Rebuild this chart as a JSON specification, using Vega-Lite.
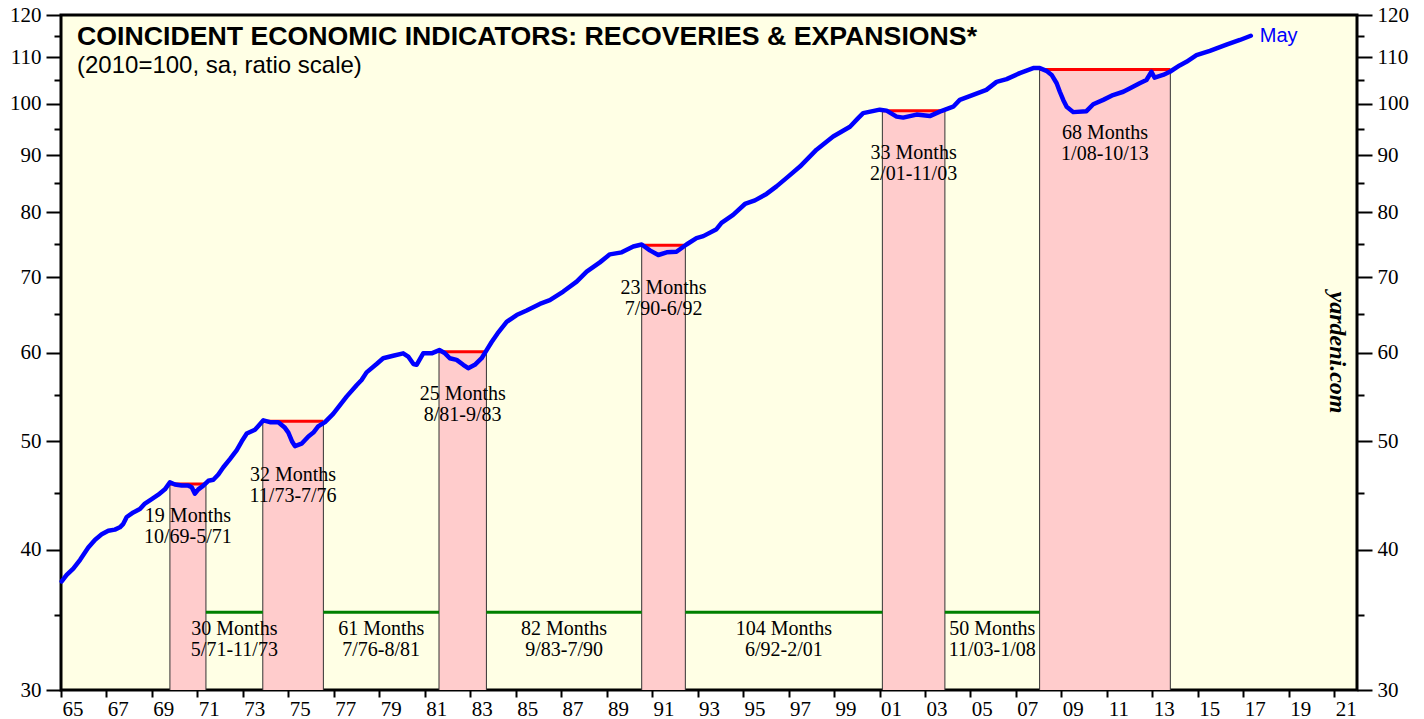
{
  "$schema": "https://vega.github.io/schema/vega-lite/v6.json",
  "width": 1296,
  "height": 675,
  "autosize": {"type": "none"},
  "padding": {"left": 61, "top": 15, "right": 67, "bottom": 29},
  "background": "white",
  "config": {
    "view": {"fill": "#FFFFE5", "stroke": "#000000", "strokeWidth": 3}
  },
  "title": {
    "text": "COINCIDENT ECONOMIC INDICATORS: RECOVERIES & EXPANSIONS*",
    "subtitle": "(2010=100, sa, ratio scale)",
    "anchor": "start",
    "frame": "group",
    "orient": "top",
    "offset": -74,
    "dx": 16,
    "font": "Liberation Sans",
    "fontSize": 26.7,
    "fontWeight": "bold",
    "color": "#000000",
    "subtitleFont": "Liberation Sans",
    "subtitleFontSize": 24,
    "subtitleColor": "#000000",
    "subtitlePadding": 3
  },
  "datasets": {
    "rec": [
      {"start": 1969.79, "end": 1971.375, "peak": 45.8, "label": "19 Months\n10/69-5/71", "labelAt": 42.4},
      {"start": 1973.875, "end": 1976.54, "peak": 52.1, "label": "32 Months\n11/73-7/76", "labelAt": 46.1},
      {"start": 1981.625, "end": 1983.71, "peak": 60.1, "label": "25 Months\n8/81-9/83", "labelAt": 54.4},
      {"start": 1990.54, "end": 1992.46, "peak": 74.8, "label": "23 Months\n7/90-6/92", "labelAt": 67.6},
      {"start": 2001.125, "end": 2003.875, "peak": 98.6, "label": "33 Months\n2/01-11/03", "labelAt": 89.3},
      {"start": 2008.04, "end": 2013.79, "peak": 107.3, "label": "68 Months\n1/08-10/13", "labelAt": 93.0}
    ],
    "exp": [
      {"start": 1971.375, "end": 1973.875, "level": 35.2, "labelAt": 33.6, "label": "30 Months\n5/71-11/73"},
      {"start": 1976.54, "end": 1981.625, "level": 35.2, "labelAt": 33.6, "label": "61 Months\n7/76-8/81"},
      {"start": 1983.71, "end": 1990.54, "level": 35.2, "labelAt": 33.6, "label": "82 Months\n9/83-7/90"},
      {"start": 1992.46, "end": 2001.125, "level": 35.2, "labelAt": 33.6, "label": "104 Months\n6/92-2/01"},
      {"start": 2003.875, "end": 2008.04, "level": 35.2, "labelAt": 33.6, "label": "50 Months\n11/03-1/08"}
    ],
    "cei": [
      {"year": 1965.03, "value": 37.5}, {"year": 1965.25, "value": 38.0}, {"year": 1965.54, "value": 38.5},
      {"year": 1965.84, "value": 39.2}, {"year": 1966.2, "value": 40.2}, {"year": 1966.5, "value": 40.85},
      {"year": 1966.79, "value": 41.3}, {"year": 1967.08, "value": 41.6}, {"year": 1967.37, "value": 41.7},
      {"year": 1967.59, "value": 41.9}, {"year": 1967.74, "value": 42.2}, {"year": 1967.89, "value": 42.8},
      {"year": 1968.18, "value": 43.2}, {"year": 1968.47, "value": 43.5}, {"year": 1968.69, "value": 44.0},
      {"year": 1968.99, "value": 44.4}, {"year": 1969.28, "value": 44.8}, {"year": 1969.57, "value": 45.3},
      {"year": 1969.79, "value": 45.95}, {"year": 1970.01, "value": 45.75}, {"year": 1970.31, "value": 45.65},
      {"year": 1970.6, "value": 45.65}, {"year": 1970.75, "value": 45.5}, {"year": 1970.89, "value": 44.9},
      {"year": 1971.04, "value": 45.3}, {"year": 1971.26, "value": 45.65}, {"year": 1971.48, "value": 46.1},
      {"year": 1971.7, "value": 46.2}, {"year": 1971.92, "value": 46.7}, {"year": 1972.14, "value": 47.4},
      {"year": 1972.43, "value": 48.2}, {"year": 1972.73, "value": 49.1}, {"year": 1972.95, "value": 50.0},
      {"year": 1973.17, "value": 50.8}, {"year": 1973.53, "value": 51.2}, {"year": 1973.68, "value": 51.6},
      {"year": 1973.9, "value": 52.2}, {"year": 1974.19, "value": 52.0}, {"year": 1974.56, "value": 52.0},
      {"year": 1974.85, "value": 51.4}, {"year": 1975.0, "value": 50.9}, {"year": 1975.17, "value": 49.95},
      {"year": 1975.29, "value": 49.5}, {"year": 1975.58, "value": 49.75}, {"year": 1975.88, "value": 50.5},
      {"year": 1976.1, "value": 50.9}, {"year": 1976.31, "value": 51.55}, {"year": 1976.61, "value": 52.0},
      {"year": 1976.97, "value": 52.9}, {"year": 1977.56, "value": 54.8}, {"year": 1978.0, "value": 56.1},
      {"year": 1978.22, "value": 56.7}, {"year": 1978.44, "value": 57.6}, {"year": 1978.88, "value": 58.6},
      {"year": 1979.17, "value": 59.3}, {"year": 1979.61, "value": 59.6}, {"year": 1980.05, "value": 59.9},
      {"year": 1980.27, "value": 59.5}, {"year": 1980.5, "value": 58.6}, {"year": 1980.64, "value": 58.5},
      {"year": 1980.93, "value": 59.9}, {"year": 1981.3, "value": 59.9}, {"year": 1981.64, "value": 60.3},
      {"year": 1981.89, "value": 59.9}, {"year": 1982.1, "value": 59.3}, {"year": 1982.4, "value": 59.1},
      {"year": 1982.69, "value": 58.5}, {"year": 1982.91, "value": 58.1}, {"year": 1983.2, "value": 58.5},
      {"year": 1983.5, "value": 59.3}, {"year": 1983.72, "value": 60.3}, {"year": 1983.94, "value": 61.3},
      {"year": 1984.2, "value": 62.4}, {"year": 1984.6, "value": 63.9}, {"year": 1985.04, "value": 64.8},
      {"year": 1985.48, "value": 65.4}, {"year": 1986.06, "value": 66.3}, {"year": 1986.5, "value": 66.8},
      {"year": 1987.09, "value": 68.0}, {"year": 1987.68, "value": 69.4}, {"year": 1988.12, "value": 70.85},
      {"year": 1988.7, "value": 72.2}, {"year": 1989.14, "value": 73.4}, {"year": 1989.66, "value": 73.7},
      {"year": 1990.17, "value": 74.6}, {"year": 1990.54, "value": 74.9}, {"year": 1990.9, "value": 74.0},
      {"year": 1991.27, "value": 73.3}, {"year": 1991.64, "value": 73.7}, {"year": 1992.07, "value": 73.8},
      {"year": 1992.51, "value": 74.9}, {"year": 1992.95, "value": 75.9}, {"year": 1993.25, "value": 76.2},
      {"year": 1993.83, "value": 77.3}, {"year": 1994.05, "value": 78.3}, {"year": 1994.56, "value": 79.6},
      {"year": 1995.08, "value": 81.4}, {"year": 1995.52, "value": 82.0}, {"year": 1996.03, "value": 83.1},
      {"year": 1996.47, "value": 84.4}, {"year": 1996.98, "value": 86.1}, {"year": 1997.5, "value": 87.9},
      {"year": 1998.23, "value": 91.0}, {"year": 1998.96, "value": 93.5}, {"year": 1999.7, "value": 95.4},
      {"year": 2000.06, "value": 97.1}, {"year": 2000.28, "value": 98.1}, {"year": 2001.01, "value": 98.8},
      {"year": 2001.31, "value": 98.6}, {"year": 2001.75, "value": 97.4}, {"year": 2002.04, "value": 97.2},
      {"year": 2002.63, "value": 97.8}, {"year": 2003.21, "value": 97.5}, {"year": 2003.65, "value": 98.4},
      {"year": 2004.24, "value": 99.4}, {"year": 2004.53, "value": 100.8}, {"year": 2004.97, "value": 101.6},
      {"year": 2005.7, "value": 102.9}, {"year": 2006.15, "value": 104.6}, {"year": 2006.59, "value": 105.2},
      {"year": 2007.17, "value": 106.5}, {"year": 2007.76, "value": 107.6}, {"year": 2008.05, "value": 107.6},
      {"year": 2008.34, "value": 107.0}, {"year": 2008.57, "value": 106.1}, {"year": 2008.79, "value": 104.3},
      {"year": 2008.93, "value": 102.5}, {"year": 2009.08, "value": 100.8}, {"year": 2009.23, "value": 99.4},
      {"year": 2009.52, "value": 98.3}, {"year": 2010.1, "value": 98.5}, {"year": 2010.4, "value": 99.9},
      {"year": 2010.84, "value": 100.8}, {"year": 2011.27, "value": 101.8}, {"year": 2011.72, "value": 102.5},
      {"year": 2012.0, "value": 103.2}, {"year": 2012.44, "value": 104.3}, {"year": 2012.74, "value": 105.0},
      {"year": 2012.96, "value": 106.8}, {"year": 2013.1, "value": 105.5}, {"year": 2013.47, "value": 106.1},
      {"year": 2013.77, "value": 106.8}, {"year": 2014.2, "value": 108.2}, {"year": 2014.5, "value": 109.0},
      {"year": 2014.94, "value": 110.5}, {"year": 2015.53, "value": 111.5}, {"year": 2016.26, "value": 112.9},
      {"year": 2016.85, "value": 114.0}, {"year": 2017.33, "value": 115.0}
    ],
    "last": [{"year": 2017.33, "value": 115.0, "label": "May"}],
    "mark": [{"year": 2021.1, "value": 60, "label": "yardeni.com"}]
  },
  "resolve": {"axis": {"y": "independent"}},
  "layer": [
    {
      "data": {"name": "rec"},
      "mark": {"type": "rect", "fill": "#FFCCCC"},
      "encoding": {
        "x": {
          "field": "start", "type": "quantitative",
          "scale": {"domain": [1965, 2022], "nice": false, "zero": false},
          "axis": {
            "orient": "bottom", "title": null,
            "values": [1965,1966,1967,1968,1969,1970,1971,1972,1973,1974,1975,1976,1977,1978,1979,1980,1981,1982,1983,1984,1985,1986,1987,1988,1989,1990,1991,1992,1993,1994,1995,1996,1997,1998,1999,2000,2001,2002,2003,2004,2005,2006,2007,2008,2009,2010,2011,2012,2013,2014,2015,2016,2017,2018,2019,2020,2021,2022],
            "format": "d",
            "labelExpr": "datum.value % 2 == 1 ? substring(datum.label, 2, 4) : ''",
            "labelOffset": 11.4,
            "tickSize": 7, "tickWidth": 2, "tickColor": "#000000",
            "labelFont": "Liberation Serif", "labelFontSize": 21, "labelColor": "#000000",
            "labelPadding": 1, "labelFlush": false, "labelOverlap": false, "labelBound": false,
            "domain": false, "grid": false
          }
        },
        "x2": {"field": "end"},
        "y": {
          "field": "peak", "type": "quantitative",
          "scale": {"type": "log", "domain": [30, 120], "nice": false, "zero": false},
          "axis": {
            "orient": "left", "title": null,
            "values": [30, 40, 50, 60, 70, 80, 90, 100, 110, 120],
            "format": "d", "domain": false, "grid": false,
            "tickSize": 15, "tickWidth": 2, "tickColor": "#000000",
            "labelFont": "Liberation Serif", "labelFontSize": 21, "labelColor": "#000000",
            "labelPadding": 5, "labelFlush": false, "labelOverlap": false
          }
        },
        "y2": {"datum": 30}
      }
    },
    {
      "data": {"name": "rec"},
      "transform": [{"fold": ["start", "end"], "as": ["edge", "xv"]}],
      "mark": {"type": "rule", "color": "#333333", "strokeWidth": 1},
      "encoding": {
        "x": {"field": "xv", "type": "quantitative", "axis": {"title": null}},
        "y": {
          "field": "peak", "type": "quantitative",
          "axis": {
            "orient": "left", "title": null,
            "values": [35, 45, 55, 65, 75, 85, 95, 105, 115],
            "labels": false, "domain": false, "grid": false,
            "tickSize": 7, "tickWidth": 2, "tickColor": "#000000"
          }
        },
        "y2": {"datum": 30}
      }
    },
    {
      "data": {"name": "rec"},
      "mark": {"type": "rule", "color": "#FF0000", "strokeWidth": 3},
      "encoding": {
        "x": {"field": "start", "type": "quantitative", "axis": {"title": null}},
        "x2": {"field": "end"},
        "y": {
          "field": "peak", "type": "quantitative",
          "axis": {
            "orient": "right", "title": null,
            "values": [30, 40, 50, 60, 70, 80, 90, 100, 110, 120],
            "format": "d", "domain": false, "grid": false,
            "tickSize": 15, "tickWidth": 2, "tickColor": "#000000",
            "labelFont": "Liberation Serif", "labelFontSize": 21, "labelColor": "#000000",
            "labelPadding": 5, "labelFlush": false, "labelOverlap": false
          }
        }
      }
    },
    {
      "data": {"name": "exp"},
      "mark": {"type": "rule", "color": "#008000", "strokeWidth": 3},
      "encoding": {
        "x": {"field": "start", "type": "quantitative", "axis": {"title": null}},
        "x2": {"field": "end"},
        "y": {
          "field": "level", "type": "quantitative",
          "axis": {
            "orient": "right", "title": null,
            "values": [35, 45, 55, 65, 75, 85, 95, 105, 115],
            "labels": false, "domain": false, "grid": false,
            "tickSize": 7, "tickWidth": 2, "tickColor": "#000000"
          }
        }
      }
    },
    {
      "data": {"name": "cei"},
      "mark": {"type": "line", "color": "#0000FF", "strokeWidth": 4.5, "strokeJoin": "round", "strokeCap": "round"},
      "encoding": {
        "x": {"field": "year", "type": "quantitative", "axis": {"title": null}},
        "y": {"field": "value", "type": "quantitative", "axis": null}
      }
    },
    {
      "data": {"name": "rec"},
      "transform": [{"calculate": "(datum.start + datum.end) / 2", "as": "mid"}],
      "mark": {"type": "text", "font": "Liberation Serif", "fontSize": 20, "lineHeight": 21, "lineBreak": "\n", "align": "center", "baseline": "alphabetic", "color": "#000000"},
      "encoding": {
        "x": {"field": "mid", "type": "quantitative", "axis": {"title": null}},
        "y": {"field": "labelAt", "type": "quantitative", "axis": null},
        "text": {"field": "label", "type": "nominal"}
      }
    },
    {
      "data": {"name": "exp"},
      "transform": [{"calculate": "(datum.start + datum.end) / 2", "as": "mid"}],
      "mark": {"type": "text", "font": "Liberation Serif", "fontSize": 20, "lineHeight": 21, "lineBreak": "\n", "align": "center", "baseline": "alphabetic", "color": "#000000"},
      "encoding": {
        "x": {"field": "mid", "type": "quantitative", "axis": {"title": null}},
        "y": {"field": "labelAt", "type": "quantitative", "axis": null},
        "text": {"field": "label", "type": "nominal"}
      }
    },
    {
      "data": {"name": "last"},
      "mark": {"type": "text", "font": "Liberation Sans", "fontSize": 20, "align": "left", "baseline": "middle", "dx": 9, "color": "#0000FF"},
      "encoding": {
        "x": {"field": "year", "type": "quantitative", "axis": {"title": null}},
        "y": {"field": "value", "type": "quantitative", "axis": null},
        "text": {"field": "label", "type": "nominal"}
      }
    },
    {
      "data": {"name": "mark"},
      "mark": {"type": "text", "font": "Liberation Serif", "fontSize": 24, "fontStyle": "italic", "fontWeight": "bold", "angle": 90, "align": "center", "baseline": "middle", "color": "#000000"},
      "encoding": {
        "x": {"field": "year", "type": "quantitative", "axis": {"title": null}},
        "y": {"field": "value", "type": "quantitative", "axis": null},
        "text": {"field": "label", "type": "nominal"}
      }
    }
  ]
}
